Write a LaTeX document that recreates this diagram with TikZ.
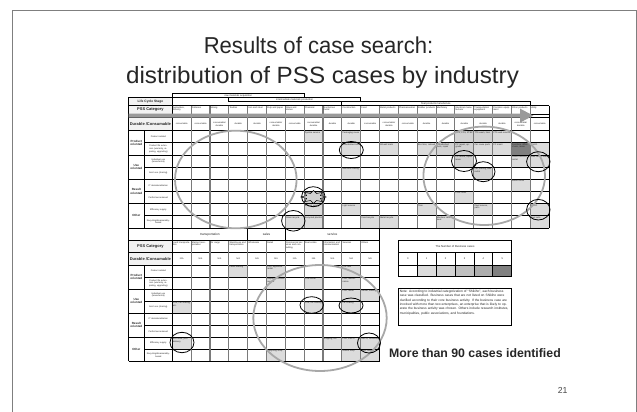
\documentclass[tikz,border=0pt]{standalone}
\usepackage{fontspec}
\setmainfont{Liberation Sans}
\usetikzlibrary{arrows.meta}
\definecolor{frame}{HTML}{7F7F7F}
\definecolor{ink}{HTML}{262626}
\definecolor{hdrfill}{HTML}{F2F2F2}
\definecolor{sA}{HTML}{DCDCDC}
\definecolor{sB}{HTML}{D2D2D2}
\definecolor{sC}{HTML}{C0C0C0}
\definecolor{sD}{HTML}{ADADAD}
\definecolor{sE}{HTML}{808080}
\definecolor{ringgray}{HTML}{A8A8A8}
\definecolor{vline}{HTML}{7A7A7A}
\definecolor{arrowgray}{HTML}{9A9A9A}
% table geometry (pt)
\def\tabL{128.5}
\def\grpR{144.3}
\def\labR{172.3}
\def\colW{18.84}
\def\upTop{130.7}
\def\upH{12.16}
\def\upR{549.1}
\def\loTop{265}
\def\loH{12.04}
\def\loR{379.54}
\begin{document}
\begin{tikzpicture}[x=1pt,y=-1pt,
  gridh/.style={line width=0.8pt,black},
  gridv/.style={line width=1.1pt,vline},
  cattxt/.style={inner sep=0pt,anchor=north west,text width=17.5pt,align=left,font=\fontsize{2.3}{2.6}\selectfont,text=ink},
  durtxt/.style={inner sep=0pt,text width=18pt,align=center,font=\fontsize{2.2}{2.6}\selectfont,text=ink},
  celltxt/.style={inner sep=0pt,anchor=north west,text width=17.5pt,align=left,font=\fontsize{2.2}{2.5}\selectfont,text=ink},
  grplab/.style={inner sep=0pt,text width=15pt,align=center,font=\fontsize{3}{3.4}\selectfont\bfseries,text=ink},
  sublab/.style={inner sep=0pt,text width=26pt,align=center,font=\fontsize{2.2}{2.6}\selectfont,text=ink},
  hdrlab/.style={inner sep=0pt,font=\fontsize{4}{4}\selectfont\bfseries,text=ink},
  stagelab/.style={inner sep=0pt,font=\fontsize{2.5}{2.5}\selectfont,text=ink},
  ring/.style={black,line width=0.8pt},
  bigring/.style={ringgray,line width=1.8pt},
]
\useasboundingbox (0,0) rectangle (637,412);
\fill[white] (0,0) rectangle (637,412);

% slide frame
\draw[frame,line width=1.4pt] (12.7,430) -- (12.7,10.7) -- (636.3,10.7) -- (636.3,430);

% title
\node[anchor=base,inner sep=0pt,text=ink,xscale=0.96,font=\fontsize{23}{27}\selectfont] (title1) at (318.5,53) {Results of case search:};
\node[anchor=base,inner sep=0pt,text=ink,xscale=1.03,font=\fontsize{23.5}{27}\selectfont] (title2) at (322.5,83) {distribution of PSS cases by industry};

% ================= upper table =================
% header label cells
\fill[hdrfill] (\tabL,97) rectangle (\labR,105.7);
\fill[hdrfill] (\tabL,105.7) rectangle (\labR,114.3);
\fill[hdrfill] (\tabL,117.5) rectangle (\labR,\upTop);

% shaded cells: column / row / shade / entry
\foreach \c/\r/\f/\ctext in {
  8/1/sA/{Dyeline service}, 10/1/sA/{Packaging reuse}, 16/1/sB/{EPS, FPS, ZTEX}, 17/1/sB/{TTS wash, tires}, 18/1/sA/{PTS web service},
  10/2/sA/{Refurbished tools}, 12/2/sA/{Bit-wall mark}, 14/2/sA/{Eco tires, retread}, 15/2/sB/{Refurbished tools, repair}, 16/2/sB/{PC repair, upgrade}, 17/2/sA/{Car reuse parts}, 18/2/sA/{PC maint.}, 19/2/sE/{Furniture, office chairs, reuse}, 20/2/sA/{ESCO},
  16/3/sB/{PC rental, copier lease}, 19/3/sA/{Office furniture rental}, 20/3/sA/{Gas heater lease},
  10/4/sA/{Machine sharing}, 17/4/sB/{Car sharing, bike rental},
  19/5/sA/{Music rental},
  8/6/sB/{Pay per use}, 16/6/sA/{Print count},
  8/7/sA/{Solvent supply}, 10/7/sA/{Light service}, 14/7/sA/{Tires}, 17/7/sA/{Fleet service, parts}, 20/7/sA/{ESCO},
  7/8/sA/{Glass recycle}, 8/8/sA/{Recycled plastics}, 11/8/sA/{Food recycle}, 12/8/sA/{Metal recycle}, 15/8/sA/{Machine take-back}, 20/8/sA/{Fuel cells}}
{
  \fill[\f] ({\labR+(\c-1)*\colW},{\upTop+(\r-1)*\upH}) rectangle ++(\colW,\upH);
  \node[celltxt] (u\c-\r) at ({\labR+(\c-1)*\colW+0.6},{\upTop+(\r-1)*\upH+0.7}) {\ctext};
}

% life-cycle stage brackets
\draw[gridh] (\labR,93.3) rectangle (304.3,97.5);
\draw[gridh] (228.7,97.5) rectangle (360.5,101.5);
\draw[gridh] (341.7,101.5) rectangle (530,105.7);
\node[stagelab] (raw) at (238.3,95.4) {raw materials acquisition};
\node[stagelab] (inter) at (294.6,99.5) {intermediate materials production};
\node[stagelab] (final) at (435.9,103.6) {final products manufacture};
\draw[gridh] (\tabL,97) -- (\labR,97);

% horizontal rules
\draw[gridh] (\tabL,105.7) -- (\upR,105.7);
\draw[gridh] (\tabL,114.3) -- (\upR,114.3);
\draw[gridh] (\tabL,117.5) -- (\upR,117.5);
\foreach \k in {0,...,8}{
  \pgfmathsetmacro\xs{ifthenelse(mod(\k,2)==0,\tabL,\grpR)}
  \draw[gridh] (\xs,{\upTop+\k*\upH}) -- (\upR,{\upTop+\k*\upH});
}
% vertical rules
\foreach \j in {1,...,19}{
  \draw[gridv] ({\labR+\j*\colW},105.7) -- ({\labR+\j*\colW},228);
}
\draw[gridh] (\tabL,97) -- (\tabL,228);
\draw[gridh] (\grpR,\upTop) -- (\grpR,228);
\draw[gridh] (\labR,93.3) -- (\labR,228);
\draw[gridh] (\upR,105.7) -- (\upR,228);

% header texts
\node[hdrlab,font=\fontsize{3.3}{3.3}\selectfont\bfseries] (lcs) at (150.4,101.35) {Life Cycle Stage};
\node[hdrlab] (pssU) at (150.4,110) {PSS Category};
\node[hdrlab] (durU) at (150.4,124.1) {Durable /Consumable};

\foreach \ctext [count=\c] in {{Agriculture, forestry}, {Fisheries}, {Mining}, {Textiles}, {Iron and steel}, {Pulp and paper}, {Glass and stones}, {Chemical}, {Nonferrous metal}, {Construction}, {Food}, {Metal products}, {Pharma\-ceutical}, {Rubber products}, {Machinery}, {Electrical manufacturer}, {Transportation equipment}, {Precision equipment}, {Other products}, {Utility}}
{
  \node[cattxt] (ucat\c) at ({\labR+(\c-1)*\colW+0.5},106.3) {\ctext};
}
\foreach \ctext [count=\c] in {{consumable}, {consumable}, {consumable/\\durable}, {durable}, {durable}, {consumable/\\durable}, {consumable}, {consumable/\\durable}, {durable}, {durable}, {consumable}, {consumable/\\durable}, {consumable}, {durable}, {durable}, {durable}, {durable}, {durable}, {consumable/\\durable}, {consumable}}
{
  \node[durtxt] (udur\c) at ({\labR+(\c-0.5)*\colW},124.1) {\ctext};
}

% row labels
\foreach \gname/\gtext [count=\k from 0] in {prod/{Product\\oriented}, use/{Use\\oriented}, res/{Result\\oriented}, oth/{Other}}
{
  \node[grplab] (ug\gname) at ({(\tabL+\grpR)/2},{\upTop+(2*\k+1)*\upH}) {\gtext};
}
\foreach \stext [count=\k from 0] in {{Product-related}, {Product life extension (warranty, repairing, upgrading)}, {Individual use (lease/rental)}, {Joint use (sharing)}, {IT dematerialization}, {Performance-based}, {Efficiency supply}, {Recycling/disassembly-based}}
{
  \node[sublab] (us\k) at ({(\grpR+\labR)/2},{\upTop+(\k+0.5)*\upH}) {\stext};
}

% PSS-category direction arrow
\fill[arrowgray] (\tabL,113.6) -- (520,113.6) -- (520,108.6) -- (533.3,115.6) -- (520,122.6) -- (520,117.6) -- (\tabL,117.6) -- cycle;

% ================= lower table =================
\fill[hdrfill] (\tabL,240.7) rectangle (\labR,252.7);
\fill[hdrfill] (\tabL,252.7) rectangle (\labR,\loTop);

\foreach \c/\r/\f/\ctext in {
  4/1/sA/{Pallet sharing}, 6/1/sA/{FSS, appliance rental}, 10/1/sA/{Car care},
  6/2/sA/{Repair, extension service}, 8/2/sA/{FSS rental}, 10/2/sA/{FSS, maintenance},
  10/3/sA/{FSS, rental}, 11/3/sA/{Rental, leasing},
  1/4/sA/{FSS, car sharing, etc.}, 8/4/sA/{FSS, car sharing}, 10/4/sA/{car sharing},
  1/7/sA/{Eco drive, joint delivery}, 9/7/sA/{Shipping, etc.}, 10/7/sA/{FSS, ESCO}, 11/7/sA/{ESCO, consulting},
  6/8/sA/{Recycling shop}, 10/8/sA/{Reuse shop}, 11/8/sA/{Flea, refining}}
{
  \fill[\f] ({\labR+(\c-1)*\colW},{\loTop+(\r-1)*\loH}) rectangle ++(\colW,\loH);
  \node[celltxt] (l\c-\r) at ({\labR+(\c-1)*\colW+0.6},{\loTop+(\r-1)*\loH+0.7}) {\ctext};
}

% sector header row
\draw[gridh] (\tabL,228) rectangle (\loR,240.7);
\draw[gridh] (\labR,228) -- (\labR,240.7);
\draw[gridh] ({\labR+4*\colW},228) -- ({\labR+4*\colW},240.7);
\draw[gridh] ({\labR+6*\colW},228) -- ({\labR+6*\colW},240.7);
\node[stagelab,font=\fontsize{3.2}{3.2}\selectfont] (transp) at ({\labR+2*\colW},234.4) {transportation};
\node[stagelab,font=\fontsize{3.2}{3.2}\selectfont] (sales) at ({\labR+5*\colW},234.4) {sales};
\node[stagelab,font=\fontsize{3.2}{3.2}\selectfont] (service) at ({\labR+8.5*\colW},234.4) {service};

% horizontal rules
\draw[gridh] (\tabL,252.7) -- (\loR,252.7);
\foreach \k in {0,...,8}{
  \pgfmathsetmacro\xs{ifthenelse(mod(\k,2)==0,\tabL,\grpR)}
  \draw[gridh] (\xs,{\loTop+\k*\loH}) -- (\loR,{\loTop+\k*\loH});
}
% vertical rules
\foreach \j in {1,...,10}{
  \draw[gridv] ({\labR+\j*\colW},240.7) -- ({\labR+\j*\colW},{\loTop+8*\loH});
}
\draw[gridh] (\tabL,228) -- (\tabL,{\loTop+8*\loH});
\draw[gridh] (\grpR,\loTop) -- (\grpR,{\loTop+8*\loH});
\draw[gridh] (\labR,228) -- (\labR,{\loTop+8*\loH});
\draw[gridh] (\loR,228) -- (\loR,{\loTop+8*\loH});

\node[hdrlab] (pssL) at (150.4,246.7) {PSS Category};
\node[hdrlab] (durL) at (150.4,258.85) {Durable /Consumable};

\foreach \ctext [count=\c] in {{Land transportation}, {Marine transportation}, {Air cargo}, {Warehouse and transportation}, {Wholesale}, {Retail}, {Commercial services and consulting}, {Real estate}, {Information and communication}, {Services}, {Others}}
{
  \node[cattxt] (lcat\c) at ({\labR+(\c-1)*\colW+0.5},241.3) {\ctext};
}
\foreach \c in {1,...,11}{
  \node[durtxt] (ldur\c) at ({\labR+(\c-0.5)*\colW},258.85) {N/A};
}

\foreach \gname/\gtext [count=\k from 0] in {prod/{Product\\oriented}, use/{Use\\oriented}, res/{Result\\oriented}, oth/{Other}}
{
  \node[grplab] (lg\gname) at ({(\tabL+\grpR)/2},{\loTop+(2*\k+1)*\loH}) {\gtext};
}
\foreach \stext [count=\k from 0] in {{Product-related}, {Product life extension (warranty, repairing, upgrading)}, {Individual use (lease/rental)}, {Joint use (sharing)}, {IT dematerialization}, {Performance-based}, {Efficiency supply}, {Recycling/disassembly-based}}
{
  \node[sublab] (ls\k) at ({(\grpR+\labR)/2},{\loTop+(\k+0.5)*\loH}) {\stext};
}

% ================= legend =================
\foreach \f [count=\j from 0] in {white,sA,sB,sC,sD,sE}{
  \fill[\f] ({398.3+\j*18.9},265) rectangle ++(18.9,11.7);
  \node[stagelab] (num\j) at ({398.3+(\j+0.5)*18.9},258.85) {\j};
}
\draw[gridh] (398.3,240) rectangle (511.7,276.7);
\draw[gridh] (398.3,252.7) -- (511.7,252.7);
\draw[gridh] (398.3,265) -- (511.7,265);
\foreach \j in {1,...,5}{
  \draw[gridh] ({398.3+\j*18.9},252.7) -- ({398.3+\j*18.9},276.7);
}
\node[stagelab,font=\fontsize{2.8}{2.8}\selectfont] (legtitle) at (455,246.35) {The Number of Business cases};

% note
\draw[gridh] (398.3,288.3) rectangle (511.7,325.7);
\node[inner sep=0pt,anchor=north west,text width=110pt,align=left,text=ink,font=\fontsize{3.25}{4.45}\selectfont] (note) at (399.6,289.6)
  {Note: According to industrial categorization of ``Shikiho'', each business case was classified. Business cases that are not listed on Shikiho were clarified according to their core business activity. If the business case are involved with more than two enterprises, an enterprise that is likely to operate the business activity was chosen. Others include research institutes, municipalities, public associations, and foundations.};

% ================= clusters =================
\draw[bigring] (235.8,179.5) ellipse [x radius=60.8, y radius=48.8];
\draw[bigring] (484.2,175.8) ellipse [x radius=60.8, y radius=49.2];
\draw[bigring] (320,318) ellipse [x radius=66.7, y radius=53];

% marked cases
\draw[ring] (351.3,150) ellipse [x radius=12, y radius=8.5];
\draw[ring] (313.3,196.7) ellipse [x radius=11.7, y radius=10];
\draw[ring] (293.3,220.8) ellipse [x radius=11.7, y radius=10.3];
\draw[ring] (464,161) ellipse [x radius=12.5, y radius=10.5];
\draw[ring] (483.3,171.7) ellipse [x radius=11.7, y radius=10];
\draw[ring] (538.3,161.7) ellipse [x radius=11.7, y radius=10];
\draw[ring] (538.3,209.7) ellipse [x radius=11.7, y radius=10.3];
\draw[ring] (311.7,305) ellipse [x radius=11.7, y radius=8.3];
\draw[ring] (351,305.5) ellipse [x radius=12, y radius=7.5];
\draw[ring] (182,342.5) ellipse [x radius=12, y radius=10.2];
\draw[ring] (369,343) ellipse [x radius=11.5, y radius=10];

% burst mark
\draw[black,line width=0.5pt,fill=sB] plot[variable=\a,samples=17,domain=0:360]
  ({313.5+ifthenelse(mod(round(\a/22.5),2)==0,12.5,7.5)*cos(\a)},{197+ifthenelse(mod(round(\a/22.5),2)==0,6.5,3.8)*sin(\a)}) -- cycle;

% footer texts
\node[anchor=base west,inner sep=0pt,text=ink,font=\fontsize{12.3}{14}\selectfont\bfseries] (summary) at (389,357) {More than 90 cases identified};
\node[anchor=base west,inner sep=0pt,text=ink!85,font=\fontsize{8.7}{10}\selectfont] (pageno) at (557.7,393.5) {21};
\end{tikzpicture}
\end{document}
